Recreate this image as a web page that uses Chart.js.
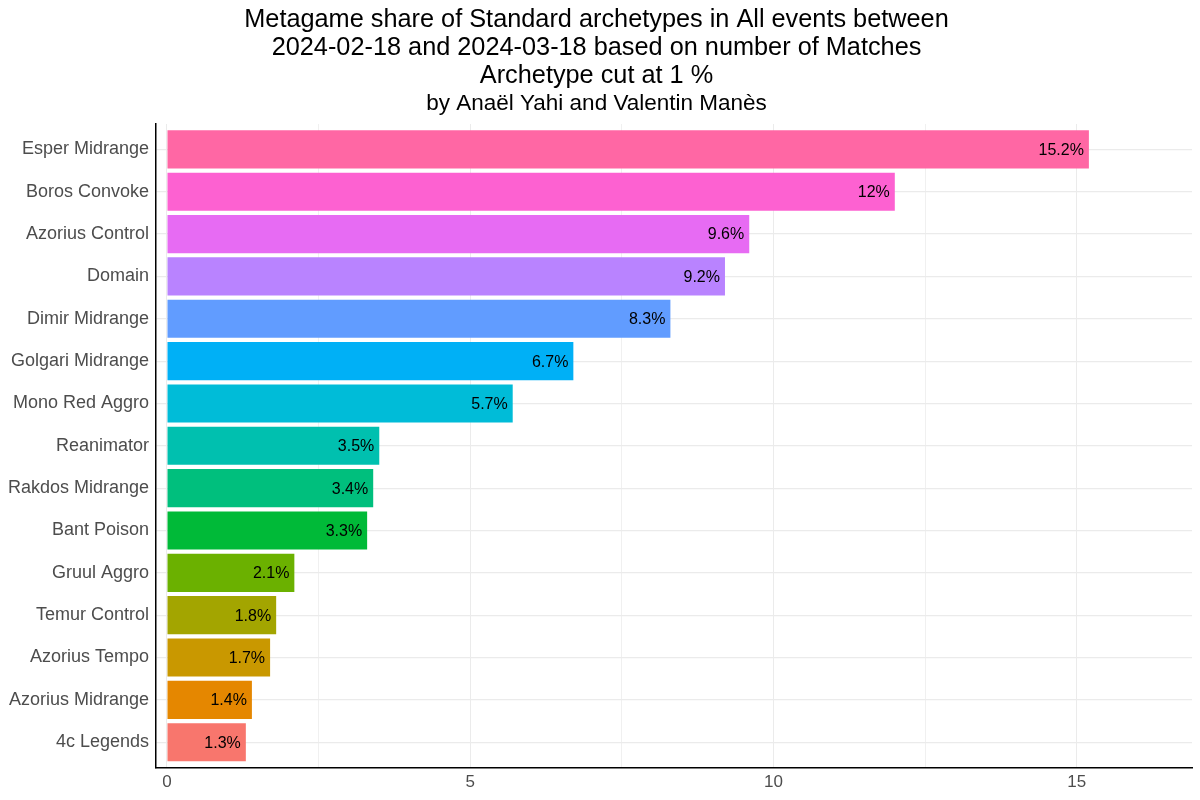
<!DOCTYPE html>
<html>
<head>
<meta charset="utf-8">
<script src="https://cdn.jsdelivr.net/npm/chart.js@4.4.1/dist/chart.umd.min.js"></script>
<style>
html, body { margin: 0; padding: 0; background: #ffffff; }
#wrap { width: 1200px; height: 800px; position: relative; }
</style>
</head>
<body>
<div id="wrap"><canvas id="c" width="1200" height="800"></canvas></div>
<script>
const categories = ['Esper Midrange', 'Boros Convoke', 'Azorius Control', 'Domain', 'Dimir Midrange', 'Golgari Midrange', 'Mono Red Aggro', 'Reanimator', 'Rakdos Midrange', 'Bant Poison', 'Gruul Aggro', 'Temur Control', 'Azorius Tempo', 'Azorius Midrange', '4c Legends'];
const shares = [15.2, 12, 9.6, 9.2, 8.3, 6.7, 5.7, 3.5, 3.4, 3.3, 2.1, 1.8, 1.7, 1.4, 1.3];
const barColors = ['#FF67A4', '#FD61D1', '#E76BF3', '#B983FF', '#619CFF', '#00B0F6', '#00BCD8', '#00C0AF', '#00BF7D', '#00BA38', '#6BB100', '#A3A500', '#C99800', '#E58700', '#F8766D'];
const xGridValues = [0, 2.5, 5, 7.5, 10, 12.5, 15];
const xLabeledTicks = [0, 5, 10, 15];
const titleLines = ['Metagame share of Standard archetypes in All events between', '2024-02-18 and 2024-03-18 based on number of Matches', 'Archetype cut at 1 %'];
const subtitleText = 'by Anaël Yahi and Valentin Manès';

Chart.defaults.font.family = '"Liberation Sans", Arial, Helvetica, sans-serif';

const barLabels = {
  id: 'barLabels',
  afterDatasetsDraw(chart) {
    const ctx = chart.ctx;
    const meta = chart.getDatasetMeta(0);
    ctx.save();
    ctx.font = '16px "Liberation Sans", Arial, sans-serif';
    ctx.fillStyle = '#000000';
    ctx.textAlign = 'right';
    ctx.textBaseline = 'middle';
    meta.data.forEach((bar, i) => {
      ctx.fillText(shares[i] + '%', bar.x - 5, bar.y + 1);
    });
    ctx.restore();
  }
};

new Chart(document.getElementById('c'), {
  type: 'bar',
  data: {
    datasets: [{
      data: shares.map((v, i) => ({ x: v, y: i })),
      backgroundColor: barColors,
      borderWidth: 0,
      barPercentage: 0.9,
      categoryPercentage: 1.0
    }]
  },
  options: {
    indexAxis: 'y',
    responsive: false,
    animation: false,
    layout: { padding: { left: 1, right: 8, top: 0, bottom: 2 } },
    plugins: {
      legend: { display: false },
      tooltip: { enabled: false },
      title: {
        display: true,
        text: titleLines,
        color: '#000000',
        font: { size: 25.3, weight: 'normal', lineHeight: 1.1 },
        padding: { top: 6, bottom: 0 }
      },
      subtitle: {
        display: true,
        text: subtitleText,
        color: '#000000',
        font: { size: 22.5, weight: 'normal', lineHeight: 1.2 },
        padding: { top: 1, bottom: 6.5 }
      }
    },
    scales: {
      x: {
        type: 'linear',
        min: -0.18,
        max: 16.9,
        afterBuildTicks(scale) {
          scale.ticks = xGridValues.map(v => ({ value: v }));
        },
        ticks: {
          autoSkip: false,
          maxRotation: 0,
          color: '#4D4D4D',
          font: { size: 17 },
          padding: 5,
          callback(v) { return xLabeledTicks.includes(v) ? String(v) : ''; }
        },
        grid: {
          drawTicks: false,
          color: ctx => (ctx.tick && ctx.tick.value % 5 === 0) ? '#EBEBEB' : '#F0F0F0',
          lineWidth: 1
        },
        border: { display: true, color: '#000000', width: 1.5 }
      },
      y: {
        type: 'linear',
        reverse: true,
        offset: false,
        min: -0.6,
        max: categories.length - 0.4,
        afterBuildTicks(scale) {
          scale.ticks = categories.map((c, i) => ({ value: i }));
        },
        ticks: {
          autoSkip: false,
          color: '#4D4D4D',
          font: { size: 18 },
          padding: 7,
          callback(v) { return categories[v]; }
        },
        grid: {
          offset: false,
          drawTicks: false,
          color: '#EBEBEB',
          lineWidth: 1.2
        },
        border: { display: true, color: '#000000', width: 1.5 }
      }
    }
  },
  plugins: [barLabels]
});
</script>
</body>
</html>
